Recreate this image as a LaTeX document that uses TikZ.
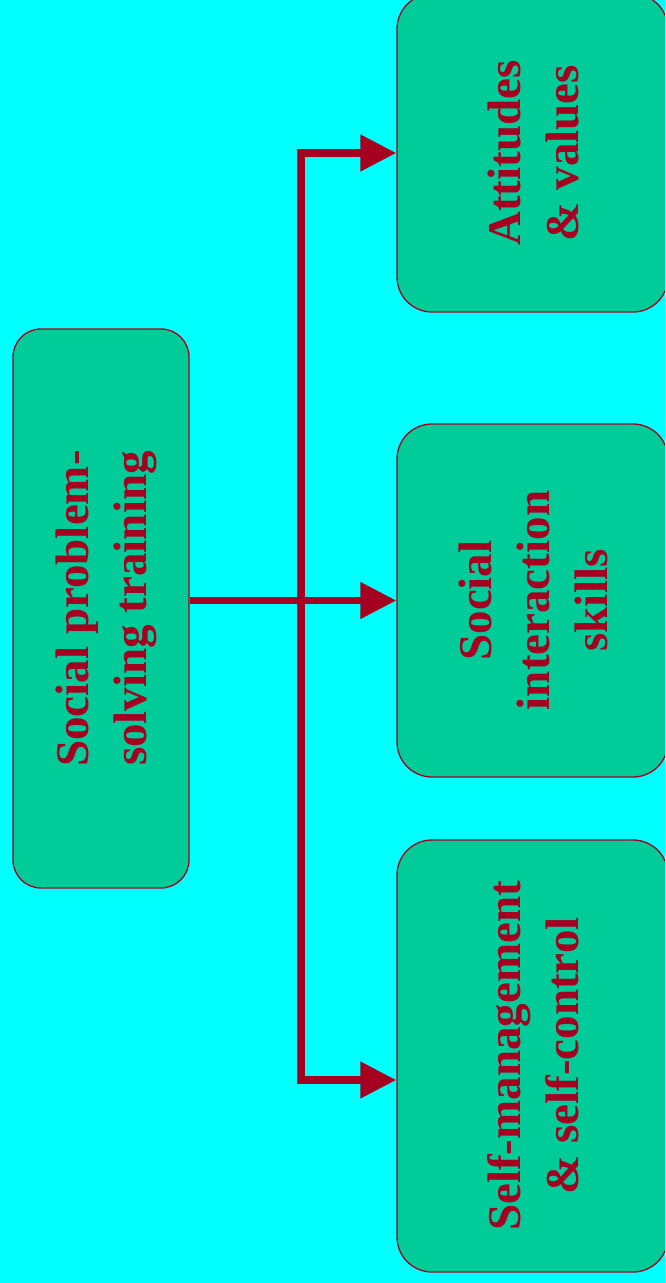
\documentclass[tikz,border=0pt]{standalone}
\usepackage{fontspec}
\setmainfont{Liberation Serif}
\usepackage{graphicx}
\usetikzlibrary{arrows.meta}
\definecolor{skycyan}{RGB}{0,255,255}
\definecolor{boxgreen}{RGB}{0,204,153}
\definecolor{wine}{RGB}{166,0,33}
\newcommand{\uptext}[1]{\rotatebox{90}{\raisebox{-5pt}[\height][\depth]{%
  \begin{tabular}{@{}c@{}}#1\end{tabular}}}}
\begin{document}
\begin{tikzpicture}[
  x=1pt, y=-1pt,
  box/.style={draw=wine,line width=1.3pt,fill=boxgreen,text=wine,
    font=\fontsize{47}{58}\selectfont\bfseries,inner sep=0pt},
  leftbox/.style={box,rounded corners=28pt,minimum width=176pt},
  rightbox/.style={box,rounded corners=35pt,minimum width=271pt},
  conn/.style={draw=wine,line width=7.5pt},
  tip/.style={-{Triangle[length=36pt,width=35pt]}}]
\clip (0,0) rectangle (665,1283);
\fill[skycyan] (0,0) rectangle (665,1283);
\node[leftbox,minimum height=559pt] (spt) at (101,608.5)
  {\uptext{Social problem-\\solving training}};
\node[rightbox,minimum height=318pt] (att) at (532.5,153)
  {\uptext{Attitudes\\\& values}};
\node[rightbox,minimum height=353pt] (sit) at (532.5,600.5)
  {\uptext{Social\\interaction\\skills}};
\node[rightbox,minimum height=432pt] (smc) at (532.5,1056)
  {\uptext{Self-management\\\& self-control}};
\coordinate (fork) at (301,600.5);
\coordinate (smcin) at ([yshift=-24pt]smc.west);
\draw[conn,tip] (spt.east |- sit.west) -- (sit.west);
\draw[conn,tip] (fork) |- (att.west);
\draw[conn,tip] (fork) |- (smcin);
\end{tikzpicture}
\end{document}
